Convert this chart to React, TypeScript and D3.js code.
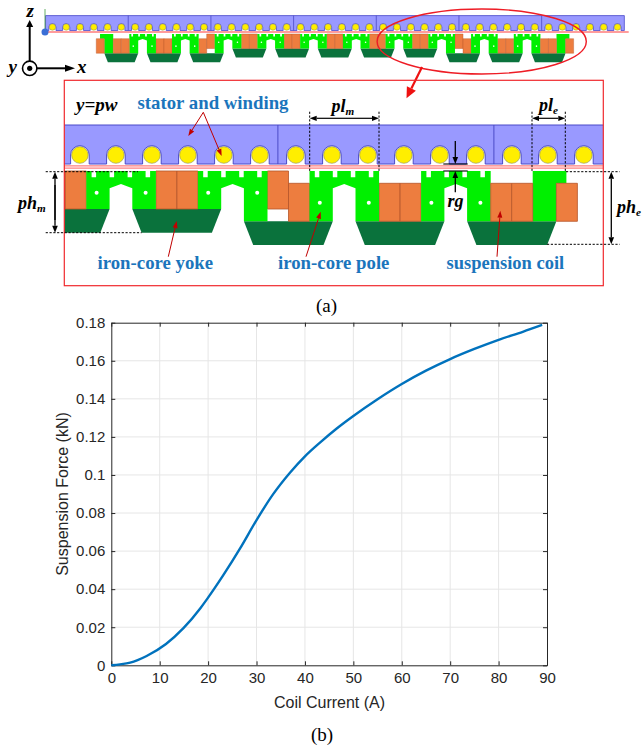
import React, { useEffect, useRef } from 'react';
import * as d3 from 'd3';

// force curve
const coilCurrent = [0, 1.8, 3.9, 7.3, 11.3, 14.9, 18.4, 19.7, 23.1, 26.6, 30, 33.4, 36.9, 40, 43.1, 46.5, 50, 55, 60, 65, 70, 75, 80, 85, 89];
const suspensionForce = [0, 0.0005, 0.0014, 0.0049, 0.0112, 0.0195, 0.03, 0.0345, 0.0472, 0.0614, 0.0763, 0.0898, 0.1012, 0.1098, 0.117, 0.1243, 0.131, 0.1398, 0.1478, 0.1548, 0.1609, 0.1662, 0.171, 0.1752, 0.1788];
const xTicks = [0, 10, 20, 30, 40, 50, 60, 70, 80, 90];
const yTicks = [0, 0.02, 0.04, 0.06, 0.08, 0.1, 0.12, 0.14, 0.16, 0.18];

// machine layout in schematic units
const moduleStarts = [0, 111.6, 223.2, 334.8, 446.4, 558, 669.6, 781.2, 892.8, 1004.4];
const moduleDrops = [12.3, 12.3, 0, 0, 0, 0, 0, 0, 12.3, 12.3];
const notchOffsets = [5.3, 23.3, 41.3, 59.3];
const holeOffsets = [10.3, 59.3];
const slotIndex = d3.range(42);
const dividerIndex = [6, 12, 18, 24, 30, 36];

const GREEN = '#00f000';
const YOKE = '#0a723c';
const COIL = '#ed7d3f';
const DARKRED = '#c00000';
const BLUE = '#1b75bc';
const SERIF = '"Liberation Serif", serif';
const SANS = '"Liberation Sans", sans-serif';

type Sel = d3.Selection<any, any, any, any>;
type Scale = d3.ScaleLinear<number, number>;

const MODULE_W = 69.6;
const CUT_L = 23.3;
const CUT_R = 46;
const BODY_H = 38;
const YOKE_H = 23.7;
const COIL_W = 21;
const LOW_DROP = 12.3;
const SLOT_ORIGIN = -200.8;
const SLOT_PITCH = 36;

const line2 = d3.line<[number, number]>();

function drawStator(g: Sel, xs: Scale, ys: Scale, k: number, sw: number) {
  const cx = (i: number) => xs(SLOT_ORIGIN + i * SLOT_PITCH);
  const h = ys(39);
  const cy = ys(30);
  const r = 9.3 * k;
  const p = d3.path();
  p.moveTo(cx(0) - 18 * k, ys(0));
  p.lineTo(cx(41) + 18 * k, ys(0));
  p.lineTo(cx(41) + 18 * k, h);
  [...slotIndex].reverse().forEach(i => {
    p.lineTo(cx(i) + r, h);
    p.lineTo(cx(i) + r, cy);
    p.arc(cx(i), cy, r, 0, Math.PI, true);
    p.lineTo(cx(i) - r, h);
  });
  p.lineTo(cx(0) - 18 * k, h);
  p.closePath();
  g.append('path').attr('d', p.toString()).attr('fill', '#9999ff').attr('stroke', '#4a4ac8').attr('stroke-width', sw);
  dividerIndex.forEach(i => {
    g.append('line').attr('x1', cx(i) - 18 * k).attr('x2', cx(i) - 18 * k).attr('y1', ys(0)).attr('y2', h)
      .attr('stroke', '#4a4ac8').attr('stroke-width', sw);
  });
  g.selectAll('circle.wind').data(slotIndex).enter().append('circle').attr('class', 'wind')
    .attr('cx', d => cx(d)).attr('cy', cy).attr('r', 8.3 * k)
    .attr('fill', '#ffee00').attr('stroke', '#8a8a50').attr('stroke-width', sw * 0.6);
}

function drawMover(g: Sel, xs: Scale, ys: Scale, k: number, sw: number) {
  const n = moduleStarts.length;
  const poly = (pts: [number, number][], fill: string, stroke?: string) =>
    g.append('path').attr('d', line2(pts.map(p => [xs(p[0]), ys(p[1])] as [number, number])) + 'Z')
      .attr('fill', fill).attr('stroke', stroke || 'none').attr('stroke-width', stroke ? sw : 0);

  const coil = (x: number, drop: number) => {
    poly([[x, drop], [x + COIL_W, drop], [x + COIL_W, BODY_H + drop], [x, BODY_H + drop]], COIL, '#b5562a');
  };
  const yoke = (x0: number, x1: number, drop: number) => {
    const t = BODY_H + drop;
    poly([[x0, t], [x1, t], [x1 - 9.3, t + YOKE_H], [x0 + 9.3, t + YOKE_H]], YOKE);
  };

  // end pieces hang off the outer modules
  const first = moduleStarts[0];
  const lastStart = moduleStarts[n - 1];
  const last = lastStart + MODULE_W;
  yoke(first - 65.3, first + CUT_L, LOW_DROP);
  yoke(lastStart + CUT_R, last + 65.7, LOW_DROP);

  moduleStarts.forEach((s, i) => {
    if (i < n - 1) {
      const d = Math.max(moduleDrops[i], moduleDrops[i + 1]);
      yoke(s + CUT_R, moduleStarts[i + 1] + CUT_L, d);
      coil(s + MODULE_W, moduleDrops[i]);
      coil(s + MODULE_W + COIL_W, moduleDrops[i + 1]);
    }
  });

  moduleStarts.forEach((s, i) => {
    const lb = BODY_H + Math.max(moduleDrops[i], i > 0 ? moduleDrops[i - 1] : LOW_DROP);
    const rb = BODY_H + Math.max(moduleDrops[i], i < n - 1 ? moduleDrops[i + 1] : LOW_DROP);
    const pts: [number, number][] = [[s, 0]];
    notchOffsets.forEach(o => {
      pts.push([s + o, 0], [s + o, 6.3], [s + o + 4.5, 6.3], [s + o + 4.5, 0]);
    });
    pts.push([s + MODULE_W, 0], [s + MODULE_W, rb], [s + CUT_R, rb], [s + CUT_R, 17.3], [s + 34.7, 13], [s + CUT_L, 17.3], [s + CUT_L, lb], [s, lb]);
    poly(pts, GREEN);
    holeOffsets.forEach(o => {
      g.append('circle').attr('cx', xs(s + o)).attr('cy', ys(21.7 + (moduleDrops[i] > 0 ? 10 : 0))).attr('r', 2 * k).attr('fill', '#fff');
    });
  });

  // left end
  const lx = first - 42;
  poly([[lx - 34.5, 0], [lx, 0], [lx, BODY_H + LOW_DROP], [lx - 23.3, BODY_H + LOW_DROP], [lx - 23.3, LOW_DROP], [lx - 34.5, LOW_DROP]], GREEN);
  coil(lx - 44.3, LOW_DROP);
  coil(first - 42, LOW_DROP);
  coil(first - 21, LOW_DROP);
  // right end
  const rx = last + 42;
  poly([[rx, 0], [rx + 33.7, 0], [rx + 33.7, LOW_DROP], [rx + 23.7, LOW_DROP], [rx + 23.7, BODY_H + LOW_DROP], [rx, BODY_H + LOW_DROP]], GREEN);
  coil(rx + 23.7, LOW_DROP);
  coil(last, LOW_DROP);
  coil(last + 21, LOW_DROP);
}

function arrow(g: Sel, x1: number, y1: number, x2: number, y2: number, color: string, sw: number, len: number, half: number) {
  const a = Math.atan2(y2 - y1, x2 - x1);
  const bx = x2 - len * Math.cos(a);
  const by = y2 - len * Math.sin(a);
  g.append('line').attr('x1', x1).attr('y1', y1).attr('x2', bx).attr('y2', by).attr('stroke', color).attr('stroke-width', sw);
  const nx = -Math.sin(a) * half;
  const ny = Math.cos(a) * half;
  g.append('path').attr('d', `M${x2},${y2}L${bx + nx},${by + ny}L${bx - nx},${by - ny}Z`).attr('fill', color);
}

function dashed(g: Sel, x1: number, y1: number, x2: number, y2: number) {
  g.append('line').attr('x1', x1).attr('y1', y1).attr('x2', x2).attr('y2', y2)
    .attr('stroke', '#000').attr('stroke-width', 1).attr('stroke-dasharray', '2.2,1.6');
}

function label(g: Sel, x: number, y: number, t: string, size: number, fill: string, italic: boolean, anchor = 'start') {
  return g.append('text').attr('x', x).attr('y', y).text(t).attr('font-family', SERIF).attr('font-size', size)
    .attr('font-weight', 'bold').attr('font-style', italic ? 'italic' : 'normal').attr('fill', fill).attr('text-anchor', anchor);
}

function subLabel(g: Sel, x: number, y: number, main: string, sub: string, size: number) {
  const t = label(g, x, y, main, size, '#000', true);
  t.append('tspan').attr('dy', 3).attr('font-size', size * 0.62).text(sub);
}

function drawDiagram(svg: Sel) {
  // overview
  const top = svg.append('g');
  const K = 0.3828;
  const xOver = d3.scaleLinear().domain([0, 1000]).range([129.3, 129.3 + 1000 * K]);
  const yOverS = d3.scaleLinear().domain([0, 39]).range([15.6, 15.6 + 39 * K]);
  const yOverM = d3.scaleLinear().domain([0, 100]).range([34, 34 + 100 * K]);
  drawStator(top, xOver, yOverS, K, 0.8);
  top.append('line').attr('x1', 45).attr('x2', 628.7).attr('y1', 32).attr('y2', 32).attr('stroke', '#ff3a3a').attr('stroke-width', 1.2);
  drawMover(top, xOver, yOverM, K, 0.4);
  top.append('line').attr('x1', 45).attr('x2', 45).attr('y1', 9).attr('y2', 32).attr('stroke', '#3f9a3f').attr('stroke-width', 0.8);
  top.append('circle').attr('cx', 45).attr('cy', 32).attr('r', 3.5).attr('fill', '#3b6fd6');

  // coordinate triad
  arrow(top, 29.7, 61, 29.7, 20, '#000', 2, 7, 3.5);
  arrow(top, 37, 68.3, 75, 68.3, '#000', 2, 10, 3.5);
  top.append('circle').attr('cx', 29.7).attr('cy', 68.3).attr('r', 7.2).attr('fill', '#fff').attr('stroke', '#000').attr('stroke-width', 1.6);
  top.append('circle').attr('cx', 29.7).attr('cy', 68.3).attr('r', 2.6).attr('fill', '#000');
  label(top, 26.5, 16.5, 'z', 19, '#000', true);
  label(top, 8.5, 72.5, 'y', 19, '#000', true);
  label(top, 77, 72.5, 'x', 19, '#000', true);

  top.append('ellipse').attr('cx', 481.7).attr('cy', 41.5).attr('rx', 104.6).attr('ry', 32.5)
    .attr('fill', 'none').attr('stroke', '#ee1c25').attr('stroke-width', 1.4);
  arrow(top, 422, 67, 406.5, 98.3, '#ee1111', 2.2, 11, 5);

  // enlarged section
  const clip = svg.append('defs').append('clipPath').attr('id', 'sec');
  clip.append('rect').attr('x', 64.3).attr('y', 80.3).attr('width', 539).attr('height', 205.4);
  const sec = svg.append('g').attr('clip-path', 'url(#sec)');
  const xSec = d3.scaleLinear().domain([669.6, 1669.6]).range([86.3, 1086.3]);
  const ySecS = d3.scaleLinear().domain([0, 39]).range([125, 164]);
  const ySecM = d3.scaleLinear().domain([0, 100]).range([171, 271]);
  drawStator(sec, xSec, ySecS, 1, 1);
  drawMover(sec, xSec, ySecM, 1, 0.8);
  sec.append('rect').attr('x', 64.3).attr('y', 165.8).attr('width', 539).attr('height', 2.4)
    .attr('fill', '#ffd0d0').attr('stroke', '#ff5a5a').attr('stroke-width', 0.7);
  svg.append('rect').attr('x', 64.3).attr('y', 80.3).attr('width', 539).attr('height', 205.4)
    .attr('fill', 'none').attr('stroke', '#f0282d').attr('stroke-width', 1.2);

  const ann = svg.append('g');
  dashed(ann, 45.7, 171.7, 138, 171.7);
  dashed(ann, 45.7, 232.7, 141.7, 232.7);
  arrow(ann, 55, 220, 55, 171.7, '#000', 1.3, 7, 2.8);
  arrow(ann, 55, 185, 55, 232.7, '#000', 1.3, 7, 2.8);
  dashed(ann, 309.7, 111.7, 309.7, 171);
  dashed(ann, 379, 111.7, 379, 171);
  arrow(ann, 340, 118.3, 309.7, 118.3, '#000', 1.2, 7, 2.6);
  arrow(ann, 340, 118.3, 379, 118.3, '#000', 1.2, 7, 2.6);
  dashed(ann, 532, 111.7, 532, 171);
  dashed(ann, 565.3, 111.7, 565.3, 171);
  arrow(ann, 549, 118.3, 532, 118.3, '#000', 1.2, 7, 2.6);
  arrow(ann, 549, 118.3, 565.3, 118.3, '#000', 1.2, 7, 2.6);
  dashed(ann, 566, 171.7, 619.7, 171.7);
  dashed(ann, 547, 244.3, 619.7, 244.3);
  arrow(ann, 611.3, 210, 611.3, 171.7, '#000', 1.3, 7, 2.8);
  arrow(ann, 611.3, 210, 611.3, 244.3, '#000', 1.3, 7, 2.8);
  ann.append('line').attr('x1', 443.3).attr('x2', 467.7).attr('y1', 164).attr('y2', 164).attr('stroke', '#000').attr('stroke-width', 1.1);
  ann.append('line').attr('x1', 443.3).attr('x2', 467.7).attr('y1', 171).attr('y2', 171).attr('stroke', '#000').attr('stroke-width', 1.1);
  arrow(ann, 455.3, 141, 455.3, 164, '#000', 1.3, 7, 2.8);
  arrow(ann, 455.3, 192.3, 455.3, 171, '#000', 1.3, 7, 2.8);

  arrow(ann, 203.3, 112.3, 188.3, 136, DARKRED, 1, 7, 2.5);
  arrow(ann, 203.3, 112.3, 221.7, 156, DARKRED, 1, 7, 2.5);
  arrow(ann, 168.3, 256.7, 176.7, 221, DARKRED, 1, 7, 2.5);
  arrow(ann, 306, 256.7, 320.7, 211.7, DARKRED, 1, 7, 2.5);
  arrow(ann, 497, 256.7, 500.3, 210.7, DARKRED, 1, 7, 2.5);

  label(ann, 76, 110.5, 'y=pw', 19, '#000', true);
  label(ann, 137.5, 108.5, 'stator and winding', 18.8, BLUE, false);
  label(ann, 97.5, 268.5, 'iron-core yoke', 18.8, BLUE, false);
  label(ann, 278, 268.5, 'iron-core pole', 18.8, BLUE, false);
  label(ann, 446.5, 269, 'suspension coil', 18.5, BLUE, false);
  subLabel(ann, 18, 208.5, 'ph', 'm', 18);
  subLabel(ann, 331.5, 112, 'pl', 'm', 18);
  subLabel(ann, 539, 111, 'pl', 'e', 18);
  subLabel(ann, 617, 212.5, 'ph', 'e', 18);
  label(ann, 447.5, 206.5, 'rg', 18, '#000', true);

  svg.append('text').attr('x', 326.5).attr('y', 312).attr('text-anchor', 'middle').attr('font-family', SERIF).attr('font-size', 19).text('(a)');
  svg.append('text').attr('x', 322).attr('y', 740.5).attr('text-anchor', 'middle').attr('font-family', SERIF).attr('font-size', 19).text('(b)');
}

function drawChart(svg: Sel) {
  const left = 111.3;
  const right = 547;
  const topY = 322.7;
  const bottom = 665.3;
  const x = d3.scaleLinear().domain([0, 90]).range([left, right]);
  const y = d3.scaleLinear().domain([0, 0.18]).range([bottom, topY]);
  const g = svg.append('g');

  g.selectAll('line.gx').data(xTicks.slice(1, -1)).enter().append('line').attr('class', 'gx')
    .attr('x1', d => x(d)).attr('x2', d => x(d)).attr('y1', topY).attr('y2', bottom)
    .attr('stroke', '#e6e6e6').attr('stroke-width', 1);
  g.selectAll('line.gy').data(yTicks.slice(1, -1)).enter().append('line').attr('class', 'gy')
    .attr('x1', left).attr('x2', right).attr('y1', d => y(d)).attr('y2', d => y(d))
    .attr('stroke', '#e6e6e6').attr('stroke-width', 1);

  const fmt = (d: d3.NumberValue) => String(+(+d).toFixed(2));
  const style = (a: Sel) => {
    a.selectAll('path').attr('stroke', '#262626').attr('stroke-width', 1);
    a.selectAll('line').attr('stroke', '#262626').attr('stroke-width', 1);
    a.selectAll('text').attr('fill', '#262626').attr('font-family', SANS).attr('font-size', 15);
  };
  const bot = g.append('g').attr('transform', `translate(0,${bottom})`)
    .call(d3.axisBottom(x).tickValues(xTicks).tickSizeInner(-4).tickSizeOuter(0).tickPadding(7).tickFormat(fmt) as any);
  style(bot);
  const lft = g.append('g').attr('transform', `translate(${left},0)`)
    .call(d3.axisLeft(y).tickValues(yTicks).tickSizeInner(-4).tickSizeOuter(0).tickPadding(6).tickFormat(fmt) as any);
  style(lft);
  const tp = g.append('g').attr('transform', `translate(0,${topY})`)
    .call(d3.axisTop(x).tickValues(xTicks).tickSizeInner(-4).tickSizeOuter(0).tickFormat(() => '') as any);
  style(tp);
  const rt = g.append('g').attr('transform', `translate(${right},0)`)
    .call(d3.axisRight(y).tickValues(yTicks).tickSizeInner(-4).tickSizeOuter(0).tickFormat(() => '') as any);
  style(rt);

  const pts = coilCurrent.map((c, i) => [x(c), y(suspensionForce[i])] as [number, number]);
  g.append('path').attr('d', d3.line().curve(d3.curveMonotoneX)(pts)).attr('fill', 'none').attr('stroke', '#0072bd').attr('stroke-width', 2.4);

  g.append('text').attr('x', 329.5).attr('y', 708).attr('text-anchor', 'middle').attr('font-family', SANS)
    .attr('font-size', 16).attr('fill', '#262626').text('Coil Current (A)');
  g.append('text').attr('transform', `translate(68,${(topY + bottom) / 2}) rotate(-90)`).attr('text-anchor', 'middle')
    .attr('font-family', SANS).attr('font-size', 16).attr('fill', '#262626').text('Suspension Force (kN)');
}

export default function App() {
  const ref = useRef<SVGSVGElement>(null);
  useEffect(() => {
    const svg = d3.select(ref.current);
    svg.selectAll('*').remove();
    drawDiagram(svg);
    drawChart(svg);
  }, []);
  return <svg ref={ref} width={643} height={745} style={{ position: 'absolute', left: 0, top: 0, background: '#fff' }} />;
}
